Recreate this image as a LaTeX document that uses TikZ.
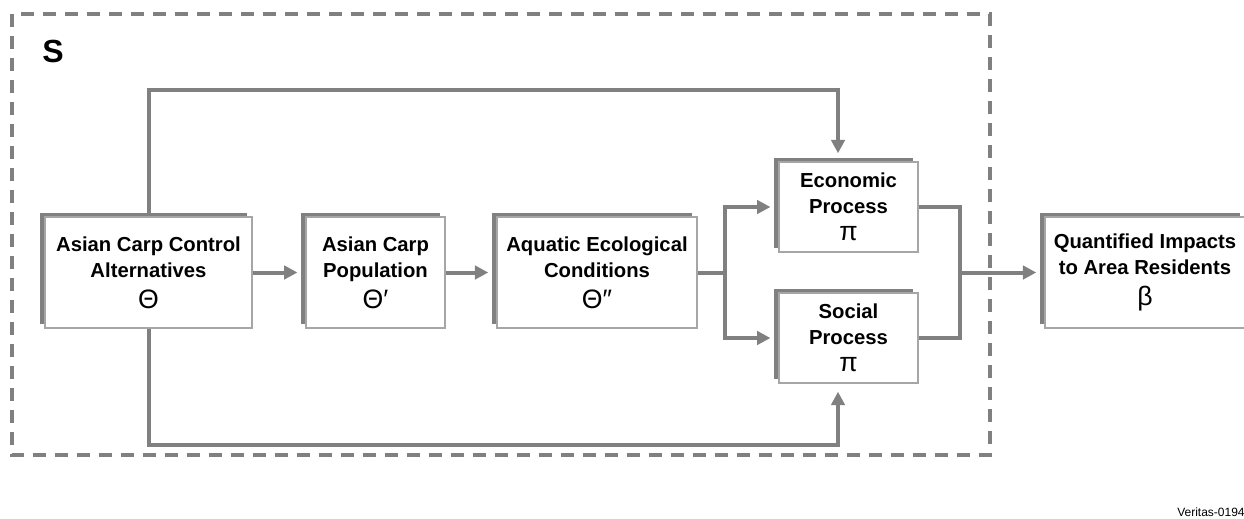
\documentclass[tikz,border=0pt]{standalone}
\usepackage{fontspec}
\setmainfont{Liberation Sans}
\usetikzlibrary{arrows.meta,shadows}
\definecolor{linegray}{HTML}{808080}
\definecolor{edgegray}{HTML}{A6A6A6}
\tikzset{
  procbox/.style={draw=edgegray, line width=1.1pt, fill=white, align=center, inner sep=2pt,
    drop shadow={shadow xshift=-3.75pt, shadow yshift=3pt, fill=linegray, opacity=1},
    font=\fontsize{15.2}{19.5}\selectfont\bfseries},
  flow/.style={draw=linegray, line width=3pt},
  flowarrow/.style={flow, -{Triangle[length=10pt,width=10pt]}, shorten >=6pt},
}
\newcommand{\gsym}[1]{{\fontsize{20}{20}\selectfont\mdseries #1}}
\begin{document}
\begin{tikzpicture}[x=0.75pt,y=0.75pt,yscale=-1]
		\useasboundingbox (0,0) rectangle (1244,518);

		% system frame
		\draw[linegray, line width=2.3pt, dash pattern=on 10pt off 6.5pt] (12,14) rectangle (990,455);
		\node[font=\fontsize{24}{24}\selectfont\bfseries, anchor=west, inner sep=0pt] (slabel) at (42,51) {S};

		% process boxes
		\node[procbox, minimum width=155pt, minimum height=83pt] (alt) at (148.5,272.5) {Asian Carp Control\\Alternatives\\[4pt]\gsym{Θ}};
		\node[procbox, minimum width=104pt, minimum height=83pt] (pop) at (375.5,272.5) {Asian Carp\\Population\\[4pt]\gsym{Θ′}};
		\node[procbox, minimum width=150pt, minimum height=83pt] (aqu) at (597,272.5) {Aquatic Ecological\\Conditions\\[4pt]\gsym{Θ″}};
		\node[procbox, minimum width=104pt, minimum height=67.5pt] (eco) at (848.5,207) {Economic\\Process\\[1pt]\gsym{π}};
		\node[procbox, minimum width=104pt, minimum height=67.5pt] (soc) at (848.5,338) {Social\\Process\\[1pt]\gsym{π}};
		\node[procbox, minimum width=150pt, minimum height=83pt] (qty) at (1145,272.5) {Quantified Impacts\\to Area Residents\\[4pt]\gsym{β}};

		% connectors
		\coordinate (topT) at (838,90);
		\coordinate (botT) at (838,445);
		\coordinate (split) at (725,272.5);
		\coordinate (join) at (960,272.5);
		\draw[flowarrow] (alt.north) |- (topT) -- (topT |- eco.north);
		\draw[flowarrow] (alt.south) |- (botT) -- (botT |- soc.south);
		\draw[flowarrow] (alt.east) -- (pop.west);
		\draw[flowarrow] (pop.east) -- (aqu.west);
		\draw[flow] (aqu.east) -- (split);
		\draw[flowarrow] (split) |- (eco.west);
		\draw[flowarrow] (split) |- (soc.west);
		\draw[flow] (eco.east) -| (join) |- (soc.east);
		\draw[flowarrow] (join) -- (qty.west);

		\node[anchor=base west, font=\fontsize{9}{10}\selectfont, inner sep=0pt] (tag) at (1177,516) {Veritas-0194};
\end{tikzpicture}
\end{document}
